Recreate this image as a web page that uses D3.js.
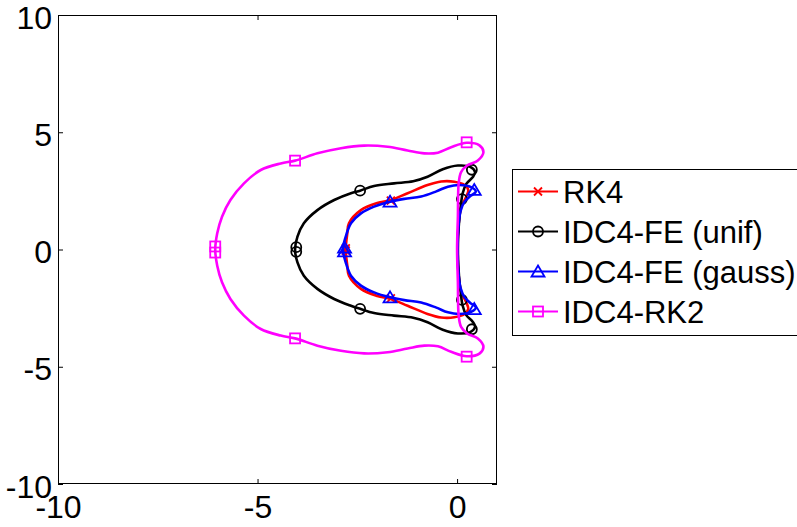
<!DOCTYPE html>
<html><head><meta charset="utf-8">
<script src="https://cdn.jsdelivr.net/npm/d3@7"></script>
<style>
body{margin:0;background:#fff;}
svg{display:block;}
text{font-family:"Liberation Sans",Arial,Helvetica,sans-serif;fill:#000;}
</style></head>
<body>
<svg id="chart" width="797" height="527"></svg>
<script>
// ---- data ----
const xTicks = [-10, -5, 0];
const yTicks = [-10, -5, 0, 5, 10];
const xTickLabels = ["-10", "-5", "0"];
const yTickLabels = ["-10", "-5", "0", "5", "10"];

const seriesNames = ["RK4", "IDC4-FE (unif)", "IDC4-FE (gauss)", "IDC4-RK2"];
const seriesColors = ["#ff0000", "#000000", "#0000ff", "#ff00ff"];
const seriesMarkers = ["x", "circle", "triangle", "square"];

const rk4 = [
  [-2.79, 0.0], [-2.75, 0.70], [-2.71, 1.12], [-2.41, 1.68], [-2.00, 1.98], [-1.66, 2.11],
  [-1.24, 2.40], [-0.74, 2.75], [-0.40, 2.90], [-0.07, 2.89], [0.18, 2.76], [0.28, 2.54],
  [0.22, 2.22], [0.10, 1.80], [0.04, 1.10], [0.01, 0.0],
  [0.04, -1.10], [0.10, -1.80], [0.22, -2.22], [0.28, -2.54], [0.18, -2.76], [-0.07, -2.89],
  [-0.40, -2.90], [-0.74, -2.75], [-1.24, -2.40], [-1.66, -2.11], [-2.00, -1.98], [-2.41, -1.68],
  [-2.71, -1.12], [-2.75, -0.70]
];
const idcUnif = [
  [-4.06, 0.0], [-4.00, 0.55], [-3.84, 1.12], [-3.50, 1.68], [-3.08, 2.11], [-2.66, 2.40],
  [-2.43, 2.51], [-2.08, 2.71], [-1.58, 2.82], [-1.10, 2.91], [-0.74, 3.10], [-0.36, 3.42],
  [0.02, 3.58], [0.33, 3.52], [0.45, 3.30], [0.39, 3.08], [0.23, 2.80], [0.14, 2.40],
  [0.09, 1.83], [0.05, 1.20], [0.02, 0.0],
  [0.05, -1.20], [0.09, -1.83], [0.14, -2.40], [0.23, -2.80], [0.39, -3.08], [0.45, -3.30],
  [0.33, -3.52], [0.02, -3.58], [-0.36, -3.42], [-0.74, -3.10], [-1.10, -2.91], [-1.58, -2.82],
  [-2.08, -2.71], [-2.43, -2.53], [-2.66, -2.40], [-3.08, -2.11], [-3.50, -1.68], [-3.84, -1.12],
  [-4.00, -0.55]
];
const idcGauss = [
  [-2.86, 0.0], [-2.79, 0.55], [-2.66, 1.12], [-2.41, 1.54], [-2.08, 1.83], [-1.68, 2.04],
  [-1.32, 2.16], [-0.90, 2.26], [-0.52, 2.48], [-0.23, 2.68], [0.06, 2.75], [0.35, 2.66],
  [0.47, 2.47], [0.33, 2.28], [0.18, 2.02], [0.09, 1.66], [0.04, 1.10], [0.01, 0.0],
  [0.04, -1.10], [0.09, -1.66], [0.18, -2.02], [0.33, -2.28], [0.47, -2.47], [0.35, -2.66],
  [0.06, -2.75], [-0.23, -2.68], [-0.52, -2.48], [-0.90, -2.26], [-1.32, -2.16], [-1.68, -2.04],
  [-2.08, -1.83], [-2.41, -1.54], [-2.66, -1.12], [-2.79, -0.55]
];
const idcRk2 = [
  [-6.06, 0.0], [-6.01, 0.69], [-5.89, 1.40], [-5.68, 2.11], [-5.34, 2.82], [-4.92, 3.39],
  [-4.42, 3.67], [-4.06, 3.79], [-3.50, 4.10], [-2.91, 4.32], [-2.33, 4.43], [-1.74, 4.38],
  [-1.24, 4.22], [-0.82, 4.10], [-0.48, 4.13], [-0.15, 4.36], [0.24, 4.55], [0.56, 4.44],
  [0.66, 4.15], [0.52, 3.80], [0.25, 3.58], [0.10, 3.30], [0.04, 2.82], [0.02, 1.40],
  [0.00, 0.0],
  [0.02, -1.40], [0.04, -2.82], [0.10, -3.30], [0.25, -3.58], [0.52, -3.80], [0.66, -4.15],
  [0.56, -4.44], [0.24, -4.55], [-0.15, -4.36], [-0.48, -4.13], [-0.82, -4.10], [-1.24, -4.22],
  [-1.74, -4.38], [-2.33, -4.43], [-2.91, -4.32], [-3.50, -4.10], [-4.06, -3.79], [-4.42, -3.67],
  [-4.92, -3.39], [-5.34, -2.82], [-5.68, -2.11], [-5.89, -1.40], [-6.01, -0.69]
];

const rk4Markers = [[-2.79, 0.05], [-2.79, -0.05], [-1.66, 2.08], [-1.66, -2.08]];
const unifMarkers = [[0.37, 3.40], [-2.43, 2.51], [-4.03, 0.10], [-4.03, -0.10], [-2.43, -2.53], [0.37, -3.40], [0.12, 2.15], [0.12, -2.15]];
const gaussMarkers = [[0.43, 2.54], [-1.68, 2.04], [-2.82, 0.08], [-2.82, -0.08], [-1.68, -2.04], [0.43, -2.54]];
const rk2Markers = [[0.24, 4.57], [-4.06, 3.79], [-6.06, 0.13], [-6.06, -0.13], [-4.06, -3.79], [0.24, -4.57]];

const curves = [rk4, idcUnif, idcGauss, idcRk2];
const markerSets = [rk4Markers, unifMarkers, gaussMarkers, rk2Markers];

// ---- chart ----
const svg = d3.select("#chart");
const L = 58, R = 497, T = 15, B = 484;
const x = d3.scaleLinear().domain([-10, 1]).range([L, R]);
const y = d3.scaleLinear().domain([-10, 10]).range([B, T]);

const clipId = "plotclip";
svg.append("clipPath").attr("id", clipId).append("rect")
  .attr("x", L).attr("y", T).attr("width", R - L).attr("height", B - T);

const tickFont = 32;
// axes (inward ticks on all four sides)
const gx = svg.append("g").attr("transform", `translate(0,${B})`)
  .call(d3.axisBottom(x).tickValues(xTicks).tickSize(-5).tickFormat((d, i) => xTickLabels[i]));
const gxt = svg.append("g").attr("transform", `translate(0,${T})`)
  .call(d3.axisTop(x).tickValues(xTicks).tickSize(-5).tickFormat(""));
const gy = svg.append("g").attr("transform", `translate(${L},0)`)
  .call(d3.axisLeft(y).tickValues(yTicks).tickSize(-5).tickFormat((d, i) => yTickLabels[i]));
const gyr = svg.append("g").attr("transform", `translate(${R},0)`)
  .call(d3.axisRight(y).tickValues(yTicks).tickSize(-5).tickFormat(""));

[gx, gxt, gy, gyr].forEach(g => {
  g.select(".domain").remove();
  g.selectAll(".tick line").attr("stroke", "#000").attr("stroke-width", 1);
});
gx.selectAll(".tick text").attr("y", 34).attr("dy", null)
  .attr("font-size", tickFont).attr("text-anchor", "middle")
  .attr("font-family", "Liberation Sans, Arial, sans-serif");
gy.selectAll(".tick text").attr("x", -6).attr("dy", null).attr("y", 13)
  .attr("font-size", tickFont).attr("text-anchor", "end")
  .attr("font-family", "Liberation Sans, Arial, sans-serif");

// box
svg.append("rect").attr("x", L + 0.5).attr("y", T + 0.5)
  .attr("width", R - L - 1).attr("height", B - T - 1)
  .attr("fill", "none").attr("stroke", "#000").attr("stroke-width", 1);

const plot = svg.append("g").attr("clip-path", `url(#${clipId})`);
const line = d3.line().x(d => x(d[0])).y(d => y(d[1])).curve(d3.curveCatmullRomClosed.alpha(0.5));

function drawMarker(g, type, cx, cy, color) {
  if (type === "square") {
    g.append("rect").attr("x", cx - 5).attr("y", cy - 5).attr("width", 10).attr("height", 10)
      .attr("fill", "none").attr("stroke", color).attr("stroke-width", 1.8);
  } else if (type === "circle") {
    g.append("circle").attr("cx", cx).attr("cy", cy).attr("r", 5)
      .attr("fill", "none").attr("stroke", color).attr("stroke-width", 1.8);
  } else if (type === "triangle") {
    g.append("path").attr("d", `M${cx},${cy - 6}L${cx + 6.5},${cy + 5}L${cx - 6.5},${cy + 5}Z`)
      .attr("fill", "none").attr("stroke", color).attr("stroke-width", 1.8);
  } else if (type === "x") {
    g.append("path").attr("d", `M${cx - 4},${cy - 4}L${cx + 4},${cy + 4}M${cx - 4},${cy + 4}L${cx + 4},${cy - 4}`)
      .attr("fill", "none").attr("stroke", color).attr("stroke-width", 1.8);
  }
}

curves.forEach((c, i) => {
  const g = plot.append("g");
  g.append("path").datum(c).attr("d", line)
    .attr("fill", "none").attr("stroke", seriesColors[i]).attr("stroke-width", 2.6)
    .attr("stroke-linejoin", "round");
  markerSets[i].forEach(m => drawMarker(g, seriesMarkers[i], x(m[0]), y(m[1]), seriesColors[i]));
});

// legend
const lg = svg.append("g");
lg.append("rect").attr("x", 512.5).attr("y", 169.5).attr("width", 300).attr("height", 166)
  .attr("fill", "#fff").attr("stroke", "#000").attr("stroke-width", 1);
seriesNames.forEach((name, i) => {
  const ly = 191.5 + i * 40;
  lg.append("line").attr("x1", 518).attr("x2", 558).attr("y1", ly).attr("y2", ly)
    .attr("stroke", seriesColors[i]).attr("stroke-width", 2);
  drawMarker(lg, seriesMarkers[i], 538, ly, seriesColors[i]);
  lg.append("text").attr("x", 563).attr("y", ly + 11).attr("font-size", 31).text(name);
});
</script>
</body></html>
